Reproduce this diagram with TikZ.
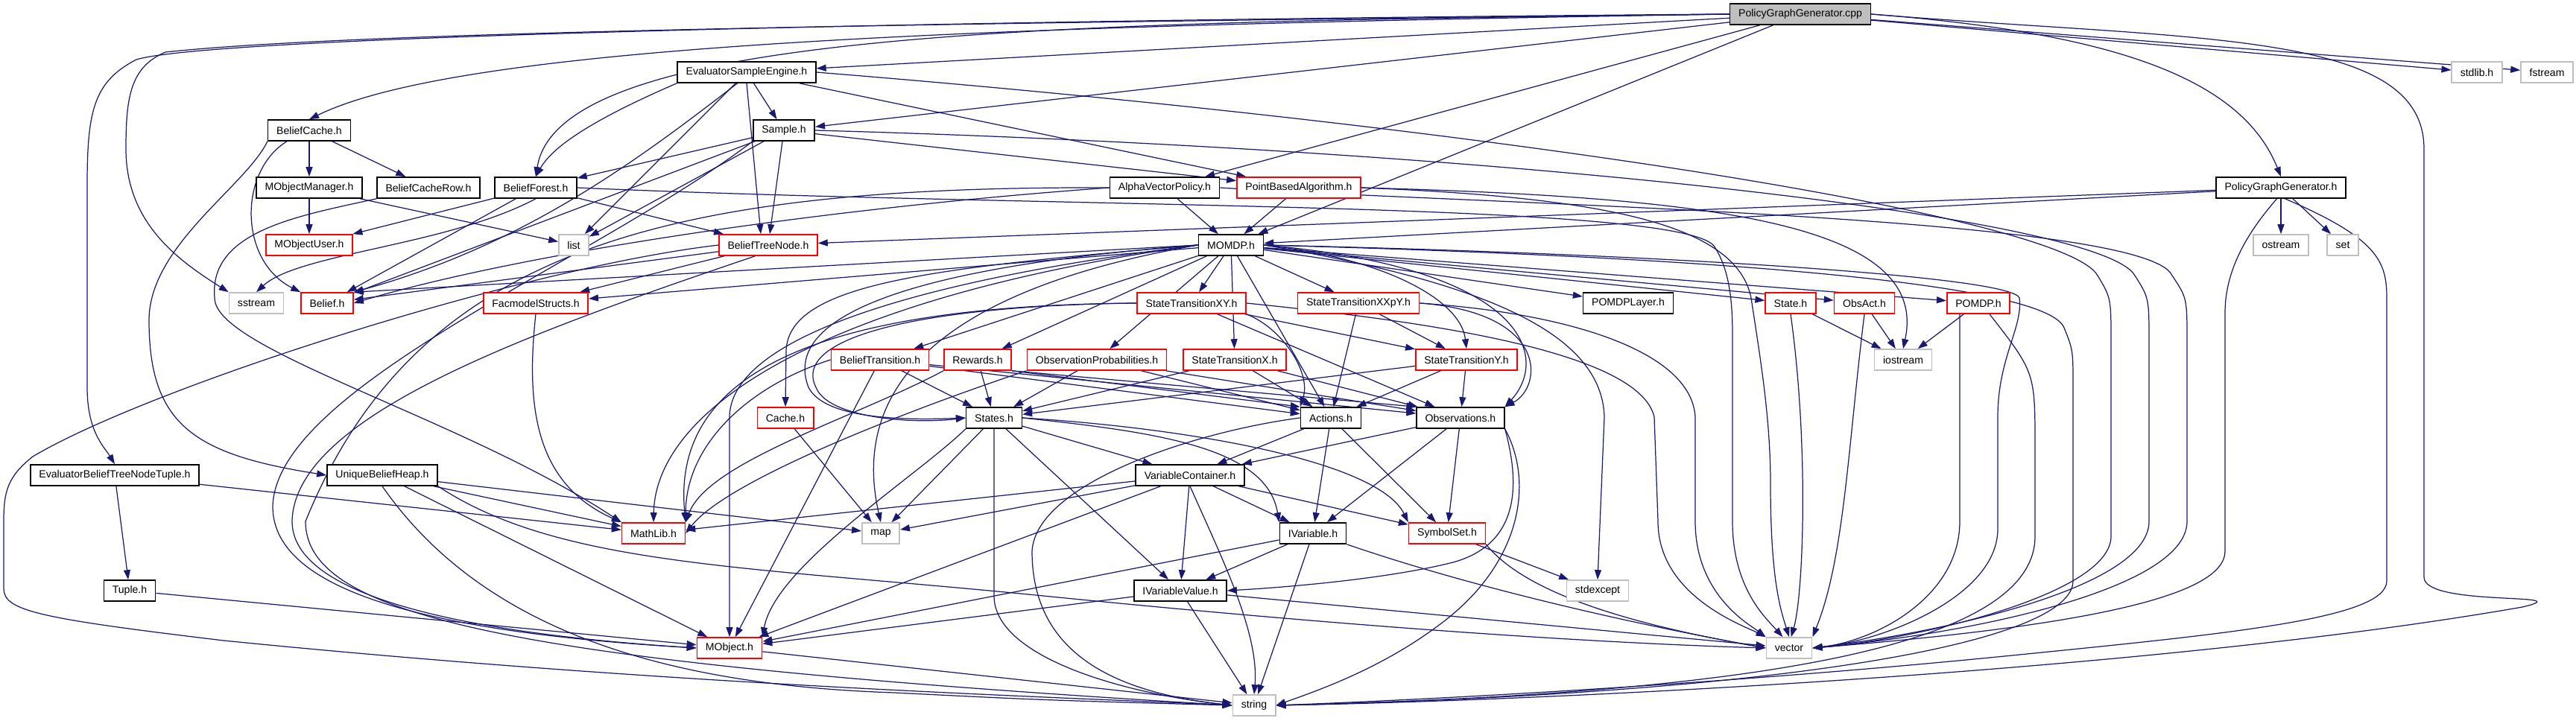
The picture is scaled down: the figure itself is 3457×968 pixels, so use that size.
\documentclass[tikz,border=0pt]{standalone}
\usepackage{fontspec}
\setmainfont{Liberation Sans}
\usetikzlibrary{arrows.meta,backgrounds}
\definecolor{mblue}{HTML}{191970}
\definecolor{lgrey}{HTML}{BFBFBF}
\definecolor{nred}{HTML}{FF0000}
\begin{document}
\begin{tikzpicture}[x=0.01cm,y=-0.01cm,
  nd/.style={draw=black, line width=0.45pt, fill=white, minimum height=0.28cm,
    inner xsep=0.115cm, inner ysep=0pt, font=\fontsize{4}{4.8}\selectfont, text=black},
  rd/.style={nd, draw=nred},
  gy/.style={nd, draw=lgrey},
  rootnd/.style={nd, fill=lgrey},
  edg/.style={draw=mblue, line width=0.35pt, -{Triangle[length=0.13cm,width=0.09cm]}}]
\useasboundingbox (0,0) rectangle (3457,968);
% ---------------- nodes
\node[rootnd] (cpp) at (2416,19) {PolicyGraphGenerator.cpp};
\node[nd] (ESE) at (1002,97) {EvaluatorSampleEngine.h};
\node[gy] (stdlib) at (3324,97) {stdlib.h};
\node[gy] (fstream) at (3418,97) {fstream};
\node[nd] (BC) at (415,175) {BeliefCache.h};
\node[nd] (Sample) at (1052,175) {Sample.h};
\node[nd] (MOM) at (415,252) {MObjectManager.h};
\node[nd] (BCR) at (575,252) {BeliefCacheRow.h};
\node[nd] (BF) at (719,252) {BeliefForest.h};
\node[nd] (AVP) at (1563,252) {AlphaVectorPolicy.h};
\node[rd] (PBA) at (1743,252) {PointBasedAlgorithm.h};
\node[nd] (PGGh) at (3061,252) {PolicyGraphGenerator.h};
\node[rd] (MOU) at (415,329) {MObjectUser.h};
\node[gy] (list) at (770,329) {list};
\node[rd] (BTN) at (1031,329) {BeliefTreeNode.h};
\node[nd] (MOMDP) at (1652,329) {MOMDP.h};
\node[gy] (ostream) at (3061,329) {ostream};
\node[gy] (set) at (3144,329) {set};
\node[gy] (sstream) at (344,407) {sstream};
\node[rd] (Belief) at (439,407) {Belief.h};
\node[rd] (Facmodel) at (719,407) {FacmodelStructs.h};
\node[rd] (STXY) at (1599,407) {StateTransitionXY.h};
\node[rd] (STXXpY) at (1823,407) {StateTransitionXXpY.h};
\node[nd] (POMDPLayer) at (2185,407) {POMDPLayer.h};
\node[rd] (State) at (2403,407) {State.h};
\node[rd] (ObsAct) at (2502,407) {ObsAct.h};
\node[rd] (POMDP) at (2655,407) {POMDP.h};
\node[rd] (BT) at (1181,483) {BeliefTransition.h};
\node[rd] (Rewards) at (1312,483) {Rewards.h};
\node[rd] (ObsProb) at (1472,483) {ObservationProbabilities.h};
\node[rd] (STX) at (1657,483) {StateTransitionX.h};
\node[rd] (STY) at (1968,483) {StateTransitionY.h};
\node[gy] (iostream) at (2554,483) {iostream};
\node[rd] (Cache) at (1054,561) {Cache.h};
\node[nd] (States) at (1334,561) {States.h};
\node[nd] (Actions) at (1786,561) {Actions.h};
\node[nd] (Observations) at (1960,561) {Observations.h};
\node[nd] (EBTNT) at (154,638) {EvaluatorBeliefTreeNodeTuple.h};
\node[nd] (UBH) at (513,638) {UniqueBeliefHeap.h};
\node[nd] (VC) at (1597,638) {VariableContainer.h};
\node[rd] (MathLib) at (877,716) {MathLib.h};
\node[gy] (map) at (1182,716) {map};
\node[nd] (IVariable) at (1762,716) {IVariable.h};
\node[rd] (SymbolSet) at (1942,716) {SymbolSet.h};
\node[nd] (Tuple) at (174,793) {Tuple.h};
\node[nd] (IVV) at (1584,793) {IVariableValue.h};
\node[gy] (stdexcept) at (2144,793) {stdexcept};
\node[rd] (MObject) at (979,870) {MObject.h};
\node[gy] (vector) at (2401,870) {vector};
\node[gy] (string) at (1683,947) {string};
% ---------------- edges
\begin{scope}[on background layer]
% PolicyGraphGenerator.cpp
\draw[edg] (cpp) -- (ESE);
\draw[edg] (cpp) -- (stdlib);
\draw[edg] (cpp) -- (fstream);
\draw[edg] (cpp.east) .. controls (2850,45) and (3010,110) .. (PGGh.north);
\draw[edg] (cpp.east) .. controls (2950,55) and (3253,40) .. (3253,200) -- (3253,775) .. controls (3253,815) and (3470,795) .. (3385,815) .. controls (2900,900) and (2100,940) .. (string.east);
\draw[edg] (cpp.west) .. controls (1300,35) and (620,60) .. (BC.north);
\draw[edg] (cpp.west) .. controls (1400,30) and (750,40) .. (BF.north);
\draw[edg] (cpp) -- (Sample);
\draw[edg] (cpp) -- (AVP);
\draw[edg] (cpp) -- (MOMDP);
\draw[edg] (cpp.west) .. controls (1500,25) and (300,45) .. (183,80) .. controls (125,110) and (117,150) .. (117,250) -- (117,520) .. controls (117,580) and (140,600) .. (EBTNT.north);
\draw[edg] (cpp.west) .. controls (1400,30) and (500,40) .. (222,70) .. controls (175,90) and (169,130) .. (169,200) .. controls (169,300) and (240,350) .. (sstream.north west);
% EvaluatorSampleEngine.h
\draw[edg] (ESE) -- (Sample);
\draw[edg] (ESE.south) -- ([xshift=-0.1cm]BTN.north);
\draw[edg] (ESE) -- (PBA);
\draw[edg] (ESE.south west) .. controls (820,150) and (745,190) .. (BF.north);
\draw[edg] (ESE) -- (list);
\draw[edg] (ESE.230) .. controls (850,220) and (700,330) .. (Belief.north east);
\draw[edg] (ESE.east) .. controls (2000,170) and (2770,290) .. (2815,370) .. controls (2833,400) .. (2833,460) -- (2833,720) .. controls (2833,800) and (2560,860) .. (vector.east);
% Sample.h
\draw[edg] (Sample) -- (BF);
\draw[edg] (Sample) -- (BTN);
\draw[edg] (Sample) -- (PBA);
\draw[edg] (Sample) -- (list);
\draw[edg] (Sample) -- (Belief);
\draw[edg] (Sample.east) .. controls (2000,200) and (2820,290) .. (2865,370) .. controls (2884,400) .. (2884,460) -- (2884,700) .. controls (2884,790) and (2600,850) .. (vector.east);
\draw[edg] (Sample.south west) .. controls (800,350) and (370,520) .. (366,680) .. controls (366,800) and (600,850) .. (MObject.west);
% BeliefCache.h
\draw[edg] (BC) -- (MOM);
\draw[edg] (BC) -- (BCR);
\draw[edg] (BC.south west) .. controls (330,250) and (200,330) .. (200,430) .. controls (200,570) and (260,610) .. (UBH.west);
\draw[edg] ([xshift=-0.3cm]BC.south) .. controls (320,230) and (320,350) .. (Belief.north west);
% MObjectManager.h
\draw[edg] (MOM) -- (MOU);
\draw[edg] (MOM) -- (list);
% BeliefCacheRow.h
\draw[edg] (BCR.south west) .. controls (400,290) and (280,310) .. (288,400) .. controls (288,470) and (620,560) .. (MathLib.north west);
% BeliefForest.h
\draw[edg] (BF) -- (MOU);
\draw[edg] (BF) -- (Belief);
\draw[edg] (BF) -- (BTN);
\draw[edg] (BF.south) .. controls (600,330) and (400,340) .. (sstream.north);
\draw[edg] (BF.east) .. controls (1400,280) and (2250,270) .. (2300,330) .. controls (2320,360) and (2325,400) .. (2325,450) -- (2325,700) .. controls (2325,790) and (2370,830) .. (vector.120);
% BeliefTreeNode.h
\draw[edg] (BTN) -- (Belief);
\draw[edg] (BTN) -- (Facmodel);
\draw[edg] (BTN.220) .. controls (700,450) and (395,560) .. (392,700) .. controls (392,800) and (620,850) .. (MObject.west);
\draw[edg] (BTN.west) .. controls (700,360) and (200,520) .. (44,613) .. controls (10,640) and (5,660) .. (5,700) -- (5,790) .. controls (5,820) and (50,830) .. (300,860) .. controls (900,920) and (1400,935) .. (string.west);
% AlphaVectorPolicy.h
\draw[edg] (AVP) -- (MOMDP);
\draw[edg] (AVP.west) .. controls (1100,280) and (700,340) .. (Belief.east);
\draw[edg] (AVP.west) .. controls (900,250) and (560,330) .. (410,700) .. controls (410,830) and (700,890) .. (string.west);
\draw[edg] (AVP.east) .. controls (2000,275) and (2880,290) .. (2915,370) .. controls (2935,400) .. (2935,460) -- (2935,700) .. controls (2935,790) and (2650,850) .. (vector.east);
% PointBasedAlgorithm.h
\draw[edg] (PBA) -- (MOMDP);
\draw[edg] (PBA.east) .. controls (2300,265) and (2590,300) .. (iostream.north);
\draw[edg] (PBA.east) .. controls (2150,265) and (2330,300) .. (2350,400) .. controls (2362,480) and (2376,560) .. (2376,650) .. controls (2376,780) and (2390,820) .. (vector.north);
% PolicyGraphGenerator.h
\draw[edg] (PGGh) -- (ostream);
\draw[edg] (PGGh) -- (set);
\draw[edg] (PGGh) -- (MOMDP);
\draw[edg] (PGGh) -- (BTN);
\draw[edg] (PGGh.250) .. controls (3000,330) and (2986,380) .. (2986,420) -- (2986,740) .. controls (2986,800) and (2800,840) .. (vector.east);
\draw[edg] (PGGh.290) .. controls (3190,320) and (3203,350) .. (3203,400) -- (3203,780) .. controls (3203,830) and (3000,850) .. (2700,880) .. controls (2300,920) and (1900,940) .. (string.east);
% MOMDP.h
\draw[edg] (MOMDP) -- (STXY);
\draw[edg] (MOMDP) -- (STXXpY);
\draw[edg] (MOMDP) -- (POMDPLayer);
\draw[edg] (MOMDP) -- (State);
\draw[edg] (MOMDP) -- (ObsAct);
\draw[edg] (MOMDP) -- (POMDP);
\draw[edg] (MOMDP.east) .. controls (1850,345) and (1960,400) .. (STY.north);
\draw[edg] (MOMDP) -- (Actions);
\draw[edg] (MOMDP.east) .. controls (2050,360) and (2080,480) .. (Observations.north east);
\draw[edg] (MOMDP.east) .. controls (2000,380) and (2150,450) .. (2153,560) -- (stdexcept.north);
\draw[edg] (MOMDP) -- (ObsProb);
\draw[edg] (MOMDP) -- (Rewards);
\draw[edg] (MOMDP) -- (BT);
\draw[edg] (MOMDP) -- (STX);
\draw[edg] (MOMDP.west) .. controls (1250,360) and (1060,380) .. (1055,470) -- (Cache.north);
\draw[edg] (MOMDP.west) .. controls (1200,360) and (1050,430) .. (1085,520) .. controls (1105,560) and (1200,565) .. (States.west);
\draw[edg] (MOMDP.west) .. controls (1100,400) and (880,550) .. (MathLib.north);
\draw[edg] (MOMDP.west) .. controls (1200,400) and (1150,560) .. (map.north);
\draw[edg] (MOMDP.west) .. controls (1200,380) and (980,460) .. (979,560) -- (MObject.north);
\draw[edg] (MOMDP.west) -- (Belief.north east);
\draw[edg] (MOMDP) -- (Facmodel);
\draw[edg] (MOMDP.east) .. controls (2200,340) and (2700,370) .. (2710,400) .. controls (2715,440) and (2681,480) .. (2681,560) -- (2681,710) .. controls (2681,800) and (2530,860) .. (vector.east);
\draw[edg] (MOMDP.east) .. controls (2300,345) and (2745,380) .. (2770,440) .. controls (2782,470) .. (2782,520) -- (2782,780) .. controls (2782,860) and (2420,930) .. (string.east);
% POMDP.h, State.h, ObsAct.h
\draw[edg] (POMDP) -- (iostream);
\draw[edg] ([xshift=-0.25cm]POMDP.south) .. controls (2630,480) .. (2630,560) -- (2630,700) .. controls (2630,800) and (2520,860) .. (vector.east);
\draw[edg] ([xshift=0.15cm]POMDP.south) .. controls (2731,500) .. (2731,600) -- (2731,720) .. controls (2731,860) and (2400,930) .. (string.east);
\draw[edg] (State) -- (iostream);
\draw[edg] (State.south) .. controls (2428,600) and (2420,800) .. (vector.80);
\draw[edg] (ObsAct) -- (iostream);
\draw[edg] (ObsAct.south) .. controls (2480,600) and (2475,750) .. (vector.north east);
% StateTransitionXY.h
\draw[edg] (STXY.west) .. controls (1250,410) and (1060,450) .. (1095,520) .. controls (1110,560) and (1220,570) .. (States.west);
\draw[edg] (STXY.south east) .. controls (1720,440) and (1760,500) .. (Actions.north west);
\draw[edg] (STXY) -- (Observations);
\draw[edg] (STXY.west) .. controls (1100,410) and (900,500) .. (MathLib.north east);
\draw[edg] (STXY) -- (STY);
\draw[edg] (STXY.east) .. controls (1900,430) and (2200,470) .. (2220,560) -- (2225,700) .. controls (2225,800) and (2340,840) .. (vector.north west);
% StateTransitionXXpY.h
\draw[edg] (STXXpY) -- (STY);
\draw[edg] (STXXpY) -- (Actions);
\draw[edg] (STXXpY.east) .. controls (2080,420) and (2070,520) .. (Observations.north east);
\draw[edg] (STXXpY.east) .. controls (2100,420) and (2270,470) .. (2275,560) -- (2275,700) .. controls (2275,800) and (2350,840) .. (vector.north west);
% StateTransitionX.h, StateTransitionY.h
\draw[edg] (STX) -- (States);
\draw[edg] (STX) -- (Actions);
\draw[edg] (STX) -- (Observations);
\draw[edg] (STY) -- (States);
\draw[edg] (STY) -- (Actions);
\draw[edg] (STY) -- (Observations);
% BeliefTransition.h, Rewards.h, ObservationProbabilities.h
\draw[edg] (BT) -- (States);
\draw[edg] (BT) -- (Actions);
\draw[edg] (BT) -- (Observations);
\draw[edg] (BT.west) .. controls (1000,520) and (920,600) .. (MathLib.north east);
\draw[edg] (BT) -- (MObject);
\draw[edg] (Rewards) -- (States);
\draw[edg] (Rewards.south east) -- (Actions.north west);
\draw[edg] (Rewards.south east) -- (Observations.north west);
\draw[edg] (Rewards.south west) .. controls (1150,560) and (950,620) .. (MathLib.north east);
\draw[edg] (ObsProb) -- (States);
\draw[edg] (ObsProb) -- (Actions);
\draw[edg] (ObsProb) -- (Observations);
\draw[edg] (ObsProb.south west) .. controls (1250,540) and (980,640) .. (MathLib.east);
% Cache.h
\draw[edg] (Cache) -- (map);
% States.h
\draw[edg] (States) -- (map);
\draw[edg] (States.south west) .. controls (1230,640) and (1040,760) .. (MObject.north east);
\draw[edg] (States.south) -- (1334,800) .. controls (1334,880) and (1500,930) .. (string.west);
\draw[edg] (States) -- (IVV);
\draw[edg] (States) -- (VC);
\draw[edg] (States.east) .. controls (1550,580) and (1700,600) .. (IVariable.north west);
\draw[edg] (States.east) .. controls (1600,575) and (1850,620) .. (SymbolSet.north west);
% Actions.h
\draw[edg] (Actions) -- (VC);
\draw[edg] (Actions) -- (IVariable);
\draw[edg] (Actions) -- (SymbolSet);
\draw[edg] (Actions.west) .. controls (1600,580) and (1390,650) .. (1385,740) .. controls (1385,880) and (1500,930) .. (string.west);
% Observations.h
\draw[edg] (Observations) -- (VC);
\draw[edg] (Observations) -- (IVariable);
\draw[edg] (Observations) -- (SymbolSet);
\draw[edg] (Observations.south east) .. controls (2040,650) and (2040,730) .. (1950,755) .. controls (1850,780) and (1700,790) .. (IVV.east);
\draw[edg] (Observations.south east) .. controls (2060,650) and (2040,760) .. (1930,840) .. controls (1850,900) and (1760,930) .. (string.east);
% VariableContainer.h
\draw[edg] (VC) -- (MathLib);
\draw[edg] (VC) -- (map);
\draw[edg] (VC) -- (IVariable);
\draw[edg] (VC) -- (IVV);
\draw[edg] (VC) -- (SymbolSet);
\draw[edg] (VC) -- (MObject);
\draw[edg] (VC.south) .. controls (1640,750) and (1690,850) .. (string.north);
% IVariable.h, SymbolSet.h, IVariableValue.h, MObject.h
\draw[edg] (IVariable) -- (IVV);
\draw[edg] (IVariable) -- (MObject);
\draw[edg] (IVariable) -- (string);
\draw[edg] (IVariable.south east) .. controls (1950,780) and (2150,830) .. (vector.west);
\draw[edg] (SymbolSet) -- (stdexcept);
\draw[edg] (SymbolSet.south east) .. controls (2050,800) and (2200,840) .. (vector.west);
\draw[edg] (IVV) -- (MObject);
\draw[edg] (IVV) -- (string);
\draw[edg] (IVV) -- (vector);
\draw[edg] (MObject) -- (string);
% UniqueBeliefHeap.h, EvaluatorBeliefTreeNodeTuple.h, Tuple.h, FacmodelStructs.h
\draw[edg] (UBH) -- (MathLib);
\draw[edg] (UBH) -- (map);
\draw[edg] (UBH) -- (MObject);
\draw[edg] (UBH.south) .. controls (650,850) and (900,920) .. (1200,930) .. controls (1400,940) .. (string.west);
\draw[edg] (UBH.south east) .. controls (750,760) and (1000,760) .. (1400,800) .. controls (1900,850) and (2200,865) .. (vector.west);
\draw[edg] (EBTNT) -- (Tuple);
\draw[edg] (EBTNT) -- (MathLib);
\draw[edg] (Tuple) -- (MObject);
\draw[edg] (Facmodel.south) .. controls (705,550) and (720,650) .. (MathLib.north west);
\end{scope}
\end{tikzpicture}
\end{document}
